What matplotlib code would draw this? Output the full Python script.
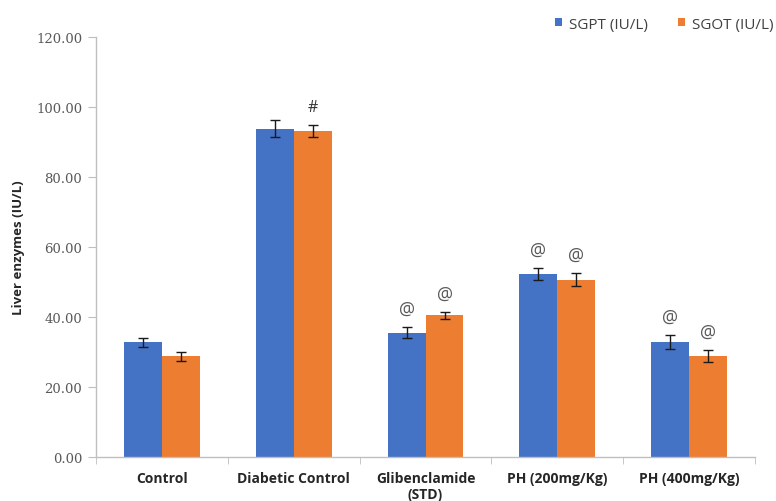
import matplotlib
matplotlib.use("Agg")
import matplotlib.pyplot as plt
import numpy as np

plt.rcParams['font.family'] = ['Open Sans', 'DejaVu Sans']

groups = ["Control", "Diabetic Control", "Glibenclamide\n(STD)", "PH (200mg/Kg)", "PH (400mg/Kg)"]
sgpt = [32.8, 93.8, 35.5, 52.4, 33.0]
sgpt_err = [1.3, 2.4, 1.6, 1.7, 2.0]
sgot = [28.8, 93.3, 40.5, 50.7, 29.0]
sgot_err = [1.3, 1.7, 1.0, 1.9, 1.7]
sgpt_marks = ["", "", "@", "@", "@"]
sgot_marks = ["", "#", "@", "@", "@"]
yticks = [0, 20, 40, 60, 80, 100, 120]

blue = "#4472C4"
orange = "#ED7D31"
axis_gray = "#BFBFBF"
text_gray = "#595959"

fig = plt.figure(figsize=(7.76, 5.02), dpi=100)
ax = fig.add_axes([0.1237, 0.0876, 0.973 - 0.1237, 0.924 - 0.0876])

x = np.arange(len(groups))
w = 0.288
err_kw = dict(ecolor="#1a1a1a", elinewidth=1.0, capsize=3.5, capthick=1.0)
b1 = ax.bar(x - w / 2, sgpt, w, yerr=sgpt_err, color=blue, label="SGPT (IU/L)", error_kw=err_kw)
b2 = ax.bar(x + w / 2, sgot, w, yerr=sgot_err, color=orange, label="SGOT (IU/L)", error_kw=err_kw)


def mark(xpos, top, symbol):
    if not symbol:
        return
    size = 13 if symbol == "@" else 11.5
    color = text_gray if symbol == "@" else "#333333"
    ax.annotate(symbol, (xpos, top), xytext=(0, 13), textcoords="offset points",
                ha="center", va="center", fontsize=size, color=color)


for xi, v, e, m in zip(x - w / 2, sgpt, sgpt_err, sgpt_marks):
    mark(xi, v + e, m)
for xi, v, e, m in zip(x + w / 2, sgot, sgot_err, sgot_marks):
    mark(xi, v + e, m)

ax.set_xlim(-0.5, len(groups) - 0.5)
ax.set_ylim(0, 120)
ax.set_yticks(yticks)
ax.set_yticklabels([f"{t:.2f}" for t in yticks], color=text_gray, fontsize=9.5,
                   family="DejaVu Serif")
ax.set_xticks(x)
ax.set_xticklabels(groups, fontsize=10, fontweight="bold", color="#262626")
ax.set_xticks(np.arange(len(groups) + 1) - 0.5, minor=True)
ax.tick_params(axis="x", which="major", length=0, pad=10)
ax.tick_params(axis="x", which="minor", length=5, color=axis_gray)
ax.tick_params(axis="y", length=6, color=axis_gray, pad=4)

for s in ["top", "right"]:
    ax.spines[s].set_visible(False)
for s in ["left", "bottom"]:
    ax.spines[s].set_color(axis_gray)
    ax.spines[s].set_linewidth(1.0)

ax.set_ylabel("Liver enzymes (IU/L)", fontsize=9.5, fontweight="bold", color="#262626", labelpad=8)

fig.legend(handles=[b1, b2], labels=["SGPT (IU/L)", "SGOT (IU/L)"], loc="center right",
           bbox_to_anchor=(0.997, 0.95), ncol=2, frameon=False, fontsize=11,
           borderpad=0, borderaxespad=0,
           handlelength=0.46, handleheight=0.46, handletextpad=0.45, columnspacing=2.0,
           labelcolor="#404040")

fig.savefig("out.png", dpi=100)
